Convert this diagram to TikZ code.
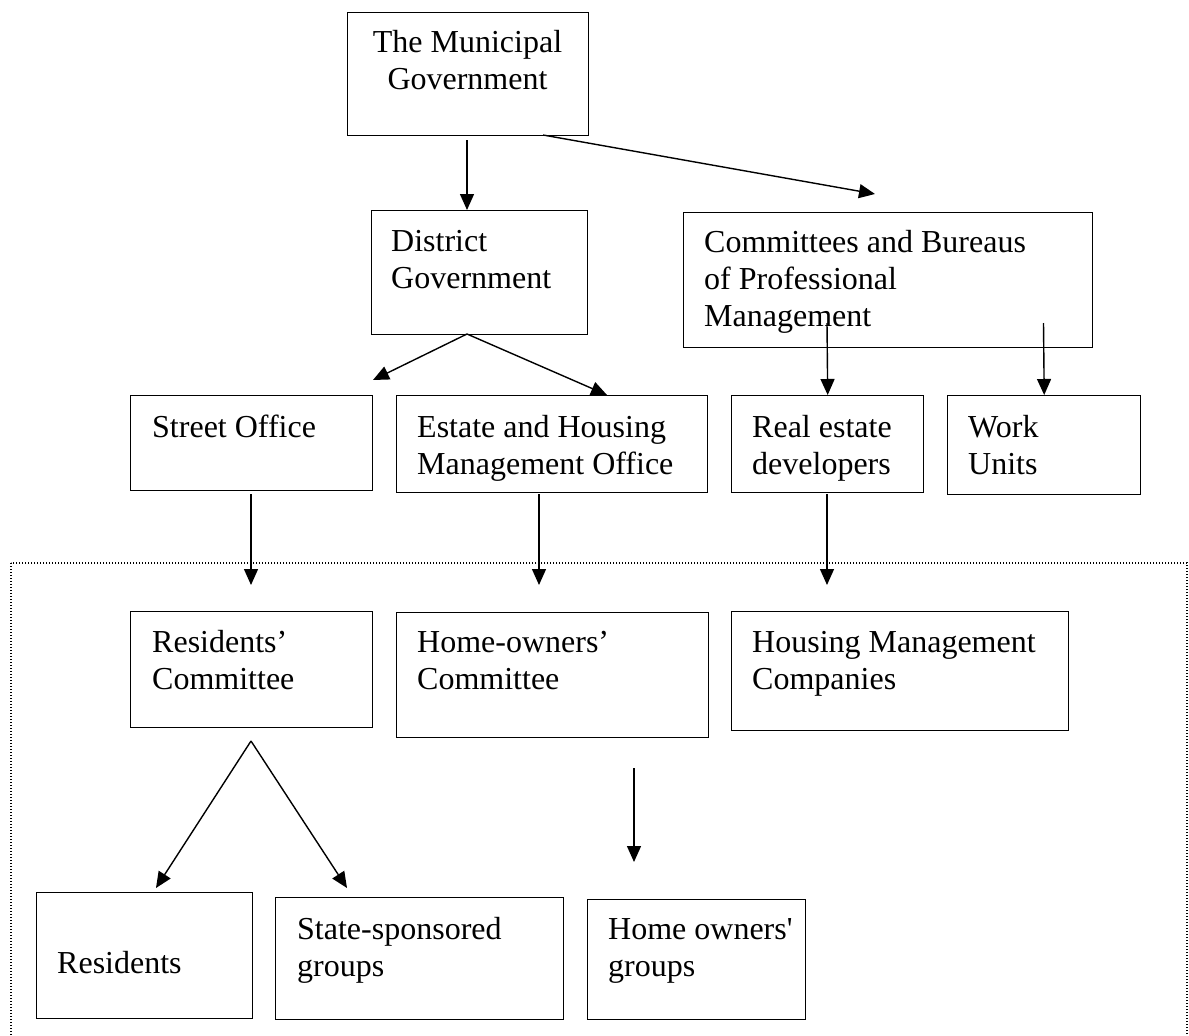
\documentclass[tikz,border=0pt]{standalone}
\usepackage{fontspec}
\setmainfont{Liberation Serif}
\usetikzlibrary{arrows.meta}
\newcommand{\lns}[1]{\begin{tabular}[t]{@{}l@{}}#1\end{tabular}}
\newcommand{\clns}[1]{\begin{tabular}[t]{@{}c@{}}#1\end{tabular}}
\begin{document}
\begin{tikzpicture}[x=1pt,y=-1pt,
  box/.style={draw, line width=1.4pt, inner sep=0pt, anchor=north west},
  txt/.style={inner sep=0pt, font=\fontsize{32}{37}\selectfont, anchor=base west},
  arr/.style={line width=1.4pt, -{Triangle[length=16pt,width=14pt]}},
  dotbox/.style={line width=1.3pt, dash pattern=on 1.4pt off 1.6pt}]
\useasboundingbox (0,0) rectangle (1189,1036);
\begin{scope}
\clip (0,0) rectangle (1189,1036);
\draw[dotbox] (11,563) rectangle (1187,1070);
\end{scope}
% boxes
\node[box, minimum width=241pt, minimum height=123pt] (mun) at (347,12) {};
\node[box, minimum width=216pt, minimum height=124pt] (dist) at (371,210) {};
\node[box, minimum width=409pt, minimum height=135pt] (comm) at (683,212) {};
\node[box, minimum width=242pt, minimum height=95pt] (street) at (130,395) {};
\node[box, minimum width=311pt, minimum height=97pt] (estate) at (396,395) {};
\node[box, minimum width=192pt, minimum height=97pt] (real) at (731,395) {};
\node[box, minimum width=193pt, minimum height=99pt] (work) at (947,395) {};
\node[box, minimum width=242pt, minimum height=116pt] (resc) at (130,611) {};
\node[box, minimum width=312pt, minimum height=125pt] (homec) at (396,612) {};
\node[box, minimum width=337pt, minimum height=119pt] (hmc) at (731,611) {};
\node[box, minimum width=216pt, minimum height=126pt] (resid) at (36,892) {};
\node[box, minimum width=288pt, minimum height=122pt] (state) at (275,897) {};
\node[box, minimum width=218pt, minimum height=120pt] (homeg) at (587,899) {};
% texts
\node[txt, anchor=base] (tmun) at (467.5,52) {\clns{The Municipal\\Government}};
\node[txt] (tdist) at (391,251) {\lns{District\\Government}};
\node[txt] (tcomm) at (704,252) {\lns{Committees and Bureaus\\of Professional\\Management}};
\node[txt] (tstreet) at (152,437) {\lns{Street Office}};
\node[txt] (testate) at (417,437) {\lns{Estate and Housing\\Management Office}};
\node[txt] (treal) at (752,437) {\lns{Real estate\\developers}};
\node[txt] (twork) at (968,437) {\lns{Work\\Units}};
\node[txt] (tresc) at (152,652) {\lns{Residents’\\Committee}};
\node[txt] (thomec) at (417,652) {\lns{Home-owners’\\Committee}};
\node[txt] (thmc) at (752,652) {\lns{Housing Management\\Companies}};
\node[txt] (tresid) at (57,973) {\lns{Residents}};
\node[txt] (tstate) at (297,939) {\lns{State-sponsored\\groups}};
\node[txt] (thomeg) at (608,939) {\lns{Home owners\textquotesingle\\groups}};
% connector end points
\coordinate (m1) at (467,140);
\coordinate (m2) at (543,135);
\coordinate (m2t) at (875,194);
\coordinate (d0) at (467,334);
\coordinate (dl) at (373,380);
\coordinate (dr) at (607,395);
\coordinate (c1) at (827,323);
\coordinate (c2) at (1043.5,323);
\coordinate (s1) at (251,494);
\coordinate (s1t) at (251,585);
\coordinate (e1) at (539,494);
\coordinate (e1t) at (539,585);
\coordinate (r1) at (827,494);
\coordinate (r1t) at (827,585);
\coordinate (rc) at (251,741);
\coordinate (rl) at (156,888);
\coordinate (rr) at (347,888);
\coordinate (h1) at (634,768);
\coordinate (h1t) at (634,862);
% connectors
\draw[arr] (m1) -- (m1 |- dist.north);
\draw[arr] (m2) -- (m2t);
\draw[arr] (d0) -- (dl);
\draw[arr] (d0) -- (dr);
\draw[arr] (c1) -- (real.north);
\draw[arr] (c2) -- (work.north);
\draw[arr] (s1) -- (s1t);
\draw[arr] (e1) -- (e1t);
\draw[arr] (r1) -- (r1t);
\draw[arr] (rc) -- (rl);
\draw[arr] (rc) -- (rr);
\draw[arr] (h1) -- (h1t);
\end{tikzpicture}
\end{document}
